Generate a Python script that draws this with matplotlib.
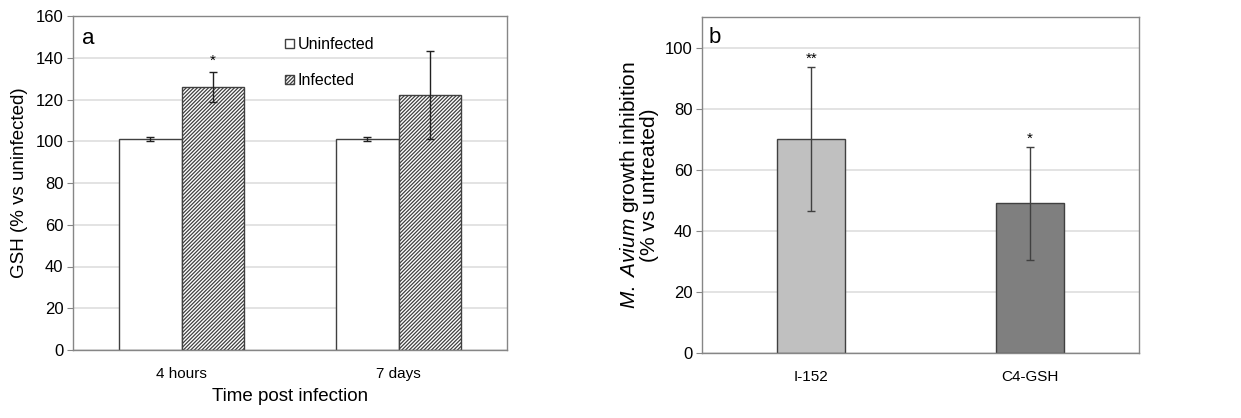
import matplotlib.pyplot as plt
import numpy as np

plt.rcParams["font.family"] = ["Liberation Sans", "DejaVu Sans"]
plt.rcParams["mathtext.fontset"] = "custom"
plt.rcParams["mathtext.it"] = "Liberation Sans:italic"
plt.rcParams["mathtext.rm"] = "Liberation Sans"
plt.rcParams["hatch.linewidth"] = 0.9
plt.rcParams["hatch.color"] = "#404040"

# panel a data
times = ["4 hours", "7 days"]
uninfected = [101, 101]
uninfected_err = [1, 1]
infected = [126, 122]
infected_err = [7, 21]
stars_a = ["*", ""]

# panel b data
compounds = ["I-152", "C4-GSH"]
inhibition = [70, 49]
inhibition_err = [23.5, 18.5]
stars_b = ["**", "*"]
bar_colors = ["#c0c0c0", "#7f7f7f"]

W, H = 1241, 418
fig = plt.figure(figsize=(W / 100, H / 100), dpi=100)

frame_col = "#868686"
edge_col = "#404040"
grid_col = "#e3e3e3"


def style_axes(ax):
    for s in ax.spines.values():
        s.set_color(frame_col)
        s.set_linewidth(1.0)
    ax.yaxis.grid(True, color=grid_col, linewidth=1.4)
    ax.set_axisbelow(True)
    ax.tick_params(axis="x", length=0, labelsize=11, pad=12)
    ax.tick_params(axis="y", length=4, color=frame_col, labelsize=12, pad=3)


# ---- panel a ----
ax1 = fig.add_axes([73 / W, 1 - 350 / H, 434 / W, 334 / H])
x = np.arange(len(times))
bw = 0.286
ax1.bar(x - bw / 2, uninfected, bw, yerr=uninfected_err, color="white",
        edgecolor=edge_col, linewidth=1.0, label="Uninfected",
        error_kw=dict(ecolor="#202020", elinewidth=1, capsize=3, capthick=1))
ax1.bar(x + bw / 2, infected, bw, yerr=infected_err, color="white",
        edgecolor=edge_col, linewidth=1.0, hatch="/" * 9, label="Infected",
        error_kw=dict(ecolor="#202020", elinewidth=1, capsize=3, capthick=1))
for i, s in enumerate(stars_a):
    if s:
        ax1.text(x[i] + bw / 2, infected[i] + infected_err[i] + 2, s,
                 ha="center", va="bottom", fontsize=11)
ax1.set_xlim(-0.5, 1.5)
ax1.set_ylim(0, 160)
ax1.set_yticks(np.arange(0, 161, 20))
ax1.set_xticks(x)
ax1.set_xticklabels(times)
style_axes(ax1)
ax1.set_ylabel("GSH (% vs uninfected)", fontsize=13.5, labelpad=5)
ax1.set_xlabel("Time post infection", fontsize=13.5, labelpad=5)
ax1.text(0.02, 0.965, "a", transform=ax1.transAxes, fontsize=16,
         va="top", ha="left")
ax1.legend(loc="upper left", bbox_to_anchor=(0.463, 0.97), frameon=False,
           fontsize=11.5, handlelength=0.55, handleheight=0.55,
           handletextpad=0.25, labelspacing=1.3, borderaxespad=0.3)

# ---- panel b ----
ax2 = fig.add_axes([702 / W, 1 - 353 / H, 437 / W, 336 / H])
xb = np.arange(len(compounds))
bwb = 0.31
ax2.bar(xb, inhibition, bwb, yerr=inhibition_err, color=bar_colors,
        edgecolor=edge_col, linewidth=1.0,
        error_kw=dict(ecolor="#404040", elinewidth=1, capsize=3, capthick=1))
for i, s in enumerate(stars_b):
    ax2.text(xb[i], inhibition[i] + inhibition_err[i] + 0.5, s,
             ha="center", va="bottom", fontsize=11)
ax2.set_xlim(-0.5, 1.5)
ax2.set_ylim(0, 110)
ax2.set_yticks(np.arange(0, 101, 20))
ax2.set_xticks(xb)
ax2.set_xticklabels(compounds)
style_axes(ax2)
ax2.set_ylabel("$\\it{M.}$ $\\it{Avium}$ growth inhibition\n(% vs untreated)",
               fontsize=15, labelpad=4, linespacing=0.95)
ax2.text(0.015, 0.97, "b", transform=ax2.transAxes, fontsize=16,
         va="top", ha="left")

fig.savefig("out.png", dpi=100)
